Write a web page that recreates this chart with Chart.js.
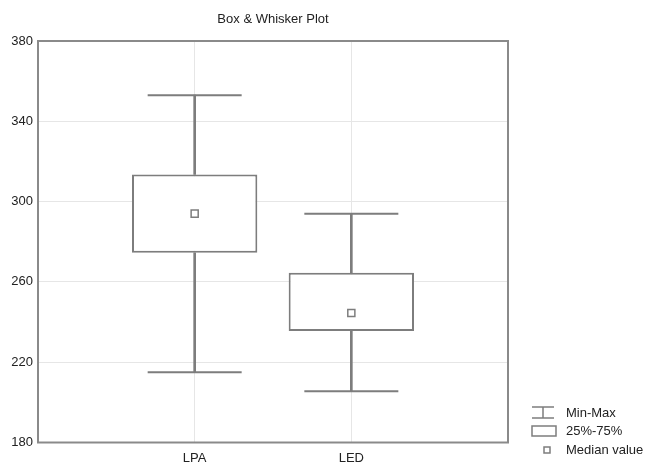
<!DOCTYPE html>
<html>
<head>
<meta charset="utf-8">
<script src="https://cdn.jsdelivr.net/npm/chart.js@4/dist/chart.umd.min.js"></script>
<style>
  html, body { margin: 0; padding: 0; background: #ffffff; }
  #wrap { width: 648px; height: 467px; }
</style>
</head>
<body>
<div id="wrap"><canvas id="chart" width="648" height="467"></canvas></div>
<script>
// Box & whisker summary per group
const categories   = ['LPA', 'LED'];
const minValues    = [215, 205.5];
const q1Values     = [274.5, 235.5];
const medianValues = [294, 244.5];
const q3Values     = [313.5, 264.5];
const maxValues    = [353, 294];
const yTicks       = [180, 220, 260, 300, 340, 380];
const legendLabels = ['Min-Max', '25%-75%', 'Median value'];

const INK = '#7d7d7d';
const TEXT = '#222222';
const FONT = "'Liberation Sans', Arial, sans-serif";

// pad the category axis so the two groups sit at 1/3 and 2/3 of the width
const axisLabels = [''].concat(categories, ['']);
const pad = arr => [null].concat(arr, [null]);

const lowerStems = pad(categories.map((_, i) => [minValues[i], q1Values[i]]));
const upperStems = pad(categories.map((_, i) => [q3Values[i], maxValues[i]]));
const boxes      = pad(categories.map((_, i) => [q1Values[i], q3Values[i]]));

// outline around the plotting area
const framePlugin = {
  id: 'frame',
  afterDatasetsDraw(chart) {
    const a = chart.chartArea, ctx = chart.ctx;
    ctx.save();
    ctx.strokeStyle = '#8a8a8a';
    ctx.lineWidth = 2;
    ctx.strokeRect(a.left, a.top, a.right - a.left, a.bottom - a.top);
    ctx.restore();
  }
};

// key for the three glyphs, bottom right
const keyPlugin = {
  id: 'boxKey',
  afterDraw(chart) {
    const ctx = chart.ctx;
    const x0 = chart.chartArea.right + 24;
    const tx = x0 + 34;
    const rows = [413, 431, 450];
    ctx.save();
    ctx.strokeStyle = INK;
    ctx.lineWidth = 1.5;
    // I-beam
    ctx.beginPath();
    ctx.moveTo(x0, rows[0] - 6); ctx.lineTo(x0 + 22, rows[0] - 6);
    ctx.moveTo(x0, rows[0] + 5); ctx.lineTo(x0 + 22, rows[0] + 5);
    ctx.moveTo(x0 + 11, rows[0] - 6); ctx.lineTo(x0 + 11, rows[0] + 5);
    ctx.stroke();
    // box
    ctx.strokeRect(x0, rows[1] - 5, 24, 10);
    // median square
    ctx.strokeRect(x0 + 12, rows[2] - 3, 6, 6);
    ctx.fillStyle = TEXT;
    ctx.font = '13px ' + FONT;
    ctx.textBaseline = 'middle';
    ctx.textAlign = 'left';
    legendLabels.forEach((t, i) => ctx.fillText(t, tx, rows[i]));
    ctx.restore();
  }
};

new Chart(document.getElementById('chart'), {
  type: 'bar',
  data: {
    labels: axisLabels,
    datasets: [
      {
        label: 'lower whisker',
        data: lowerStems,
        backgroundColor: INK,
        borderWidth: 0,
        barThickness: 2,
        grouped: false,
        order: 4
      },
      {
        label: 'upper whisker',
        data: upperStems,
        backgroundColor: INK,
        borderWidth: 0,
        barThickness: 2,
        grouped: false,
        order: 4
      },
      {
        label: '25%-75%',
        data: boxes,
        backgroundColor: '#ffffff',
        borderColor: INK,
        borderWidth: 2,
        borderSkipped: false,
        categoryPercentage: 1,
        barPercentage: 0.8,
        grouped: false,
        order: 3
      },
      {
        type: 'line',
        label: 'Min',
        data: pad(minValues),
        showLine: false,
        pointStyle: 'line',
        pointRadius: 47,
        pointBorderWidth: 2,
        pointBorderColor: INK,
        order: 2
      },
      {
        type: 'line',
        label: 'Max',
        data: pad(maxValues),
        showLine: false,
        pointStyle: 'line',
        pointRadius: 47,
        pointBorderWidth: 2,
        pointBorderColor: INK,
        order: 2
      },
      {
        type: 'line',
        label: 'Median value',
        data: pad(medianValues),
        showLine: false,
        pointStyle: 'rect',
        pointRadius: 5,
        pointBorderWidth: 1.5,
        pointBorderColor: INK,
        pointBackgroundColor: '#ffffff',
        order: 1
      }
    ]
  },
  options: {
    responsive: false,
    animation: false,
    events: [],
    layout: { autoPadding: false, padding: { left: 10, right: 140, top: 0, bottom: 1 } },
    plugins: {
      legend: { display: false },
      tooltip: { enabled: false },
      title: {
        display: true,
        text: 'Box & Whisker Plot',
        color: TEXT,
        fullSize: false,
        font: { family: FONT, size: 13, weight: 'normal', lineHeight: 1.2 },
        padding: { top: 12, bottom: 13.4 }
      }
    },
    scales: {
      x: {
        type: 'category',
        offset: false,
        afterFit(scale) { scale.height = 23.5; },
        grid: { color: '#e6e6e6', lineWidth: 1, drawTicks: false, offset: false },
        border: { display: false },
        ticks: {
          color: TEXT,
          padding: 8,
          maxRotation: 0,
          autoSkip: false,
          font: { family: FONT, size: 13 }
        }
      },
      y: {
        min: 180,
        max: 380,
        afterFit(scale) { scale.width = 28; },
        afterBuildTicks(scale) { scale.ticks = yTicks.map(v => ({ value: v })); },
        grid: { color: '#e6e6e6', lineWidth: 1, drawTicks: false },
        border: { display: false },
        ticks: {
          color: TEXT,
          padding: 5,
          font: { family: FONT, size: 13 }
        }
      }
    }
  },
  plugins: [framePlugin, keyPlugin]
});
</script>
</body>
</html>
